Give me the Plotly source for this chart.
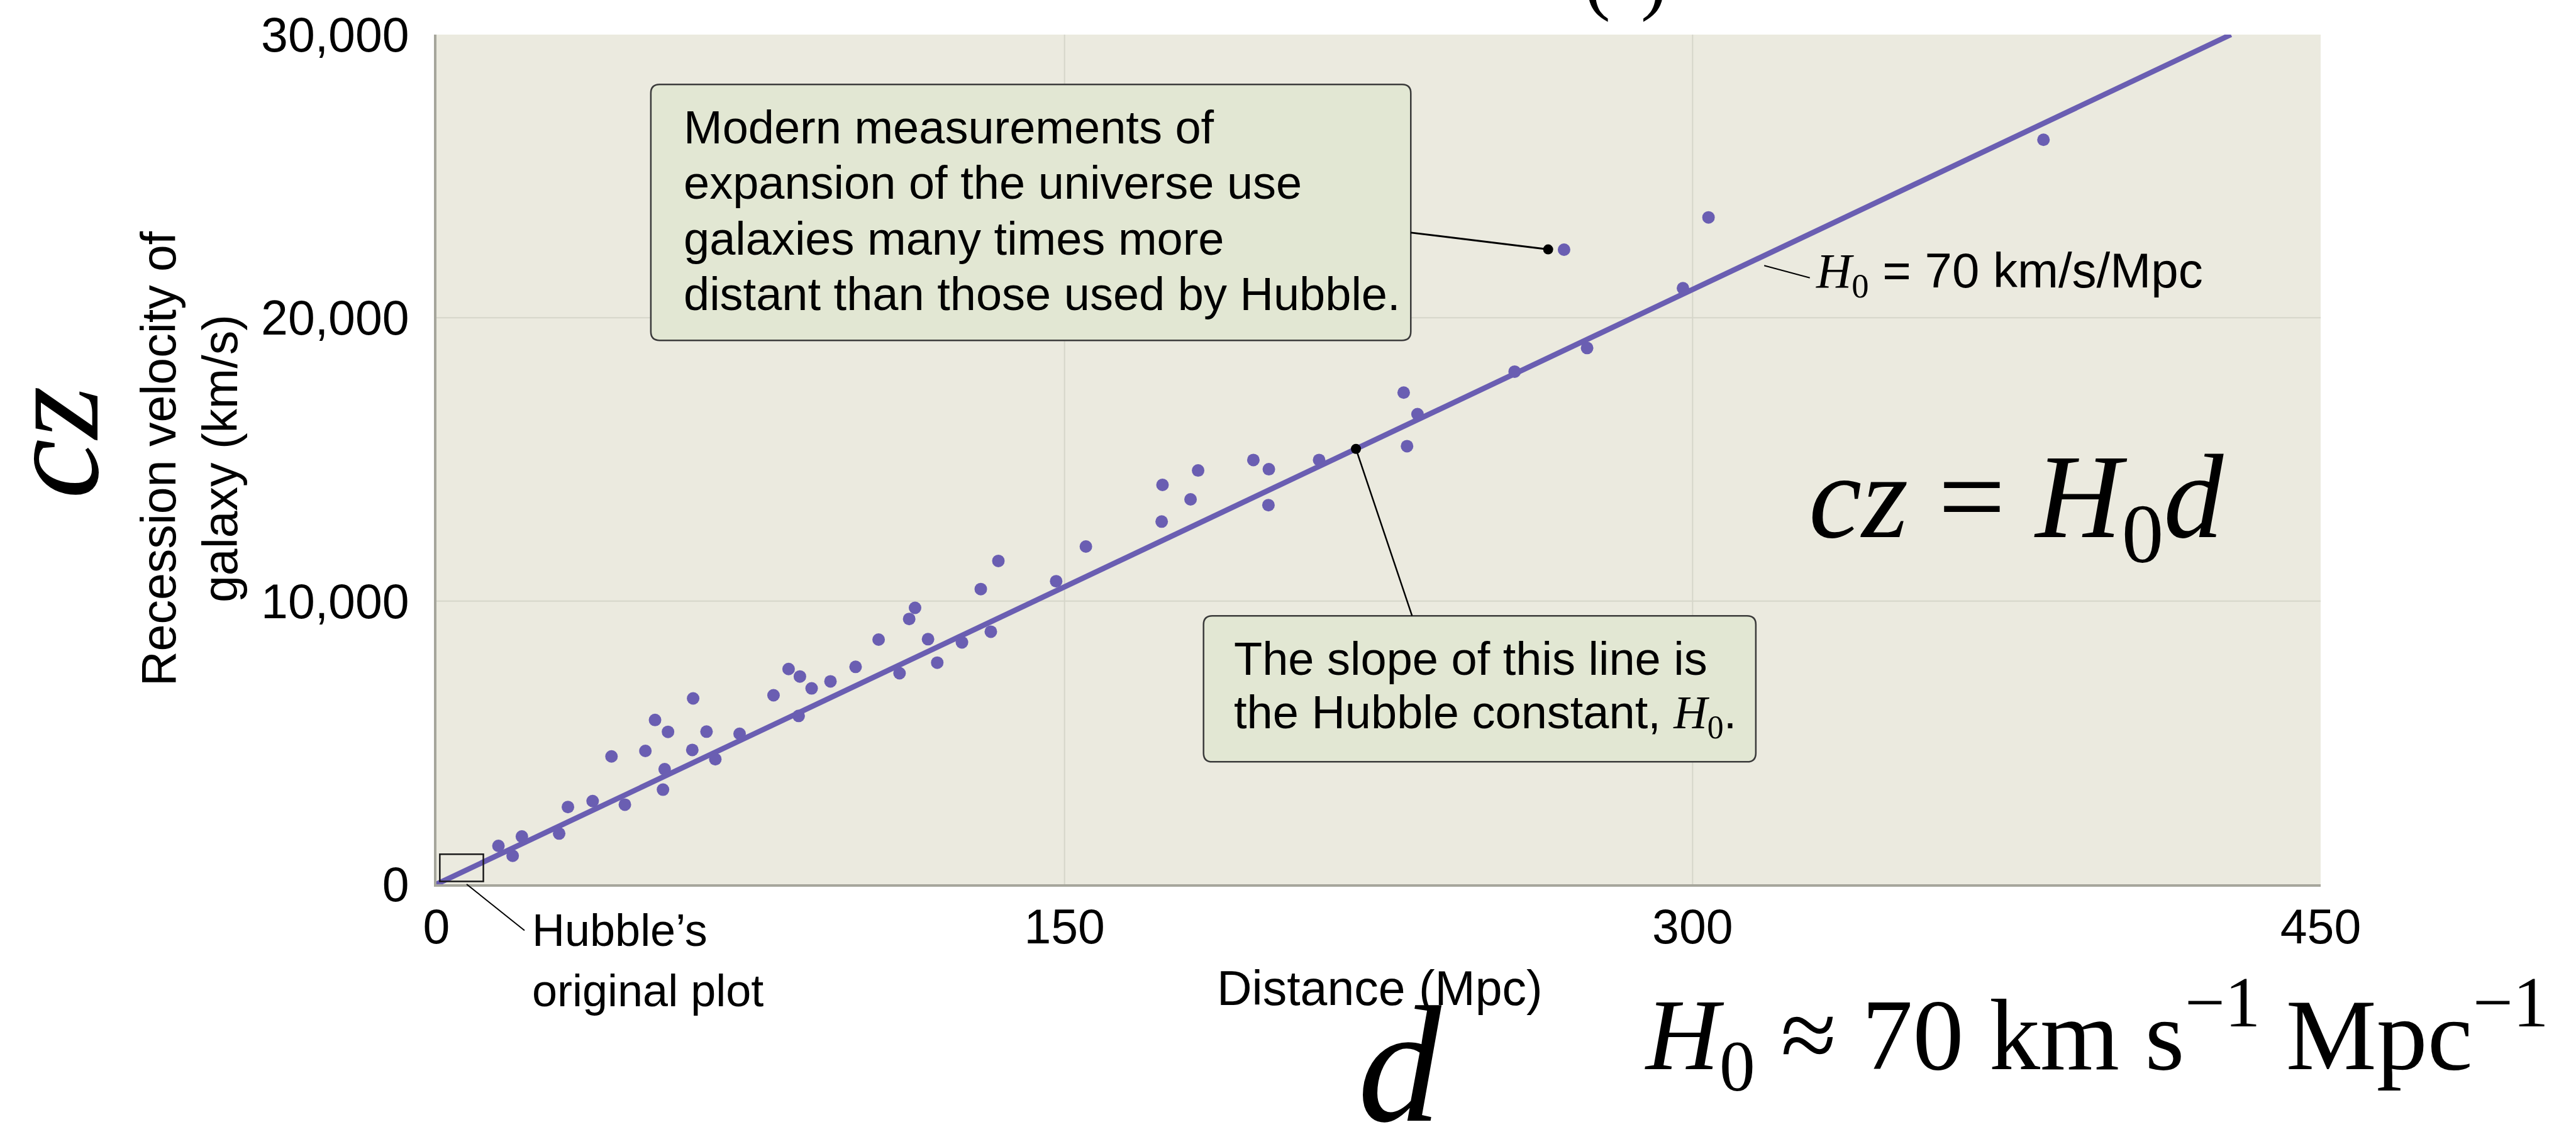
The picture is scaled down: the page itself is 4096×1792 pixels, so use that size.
import plotly.graph_objects as go

# Galaxy sample: distance (Mpc) and recession velocity cz (km/s)
distance_mpc = [14.8, 18.2, 20.4, 29.3, 31.4, 37.3, 41.8, 45.0, 49.9, 52.2,
                54.1, 54.5, 55.3, 61.1, 61.3, 64.5, 66.6, 72.4, 80.5, 84.1,
                86.5, 86.8, 89.6, 94.1, 100.1, 105.6, 110.6, 112.9, 114.3, 117.4,
                119.6, 125.5, 130.0, 132.4, 134.2, 148.0, 155.1, 173.2, 173.4, 180.1,
                181.9, 195.1, 198.7, 198.8, 210.8, 231.0, 231.8, 234.3, 257.5, 269.3,
                274.8, 297.7, 303.8, 383.8]
velocity_kms = [1354, 1005, 1686, 1791, 2728, 2937, 4514, 2811, 4708, 5799,
                3340, 4062, 5381, 4743, 6563, 5389, 4416, 5313, 6674, 7599,
                5944, 7336, 6915, 7164, 7676, 8638, 7449, 9367, 9759, 8652,
                7824, 8540, 10422, 8917, 11415, 10700, 11925, 12805, 14100, 13590,
                14609, 14980, 13387, 14654, 14980, 17359, 15469, 16600, 18099, 22406,
                18934, 21045, 23545, 26287]

# Hubble constant of the fitted line (km/s/Mpc)
H0 = 70

# Axis ranges and ticks
x_range = [0, 450]
y_range = [0, 30000]
x_ticks = [0, 150, 300, 450]
x_tick_labels = ["0", "150", "300", "450"]
y_ticks = [0, 10000, 20000, 30000]
y_tick_labels = ["0", "10,000", "20,000", "30,000"]

# Extent of Hubble's original 1929 diagram (Mpc, km/s)
hubble_box_x = [0.8, 11.2]
hubble_box_y = [100, 1060]

# Callout anchor points (Mpc)
modern_dot_x, modern_dot_y = 265.5, 22415
slope_dot_x = 219.6

W, H = 4096, 1792
PL, PR, PT, PB = 694, 3690, 47, 1406   # plot area in pixels

SANS = "Liberation Sans, Arial, sans-serif"
SERIF = "Liberation Serif, Times New Roman, serif"
PURPLE = "#6A5EB2"
BG = "#EBEADF"
GRID = "#D6D6CA"
AXIS = "#A6A69C"
BOX_FILL = "#E2E7D3"
BOX_LINE = "#3A3A3A"


def pxx(X):
    return (X - PL) / (PR - PL)


def pxy(Y):
    return (PB - Y) / (PB - PT)


def dx(px):
    return px / (PR - PL) * (x_range[1] - x_range[0])


def dy(px):
    return px / (PB - PT) * (y_range[1] - y_range[0])


def rounded_box(x0, y0, x1, y1, r_px=14):
    rx, ry = dx(r_px), dy(r_px)
    return (f"M {x0 + rx},{y0} L {x1 - rx},{y0} Q {x1},{y0} {x1},{y0 + ry} "
            f"L {x1},{y1 - ry} Q {x1},{y1} {x1 - rx},{y1} L {x0 + rx},{y1} "
            f"Q {x0},{y1} {x0},{y1 - ry} L {x0},{y0 + ry} Q {x0},{y0} {x0 + rx},{y0} Z")


H0_TXT = f"<span style='font-family:{SERIF}'><i>H</i><sub>0</sub></span>"

fig = go.Figure()

# fitted line cz = H0 d
fig.add_trace(go.Scatter(
    x=[0, y_range[1] / H0], y=[0, y_range[1]], mode="lines",
    line=dict(color=PURPLE, width=8.5), hoverinfo="skip"))

# galaxies
fig.add_trace(go.Scatter(
    x=distance_mpc, y=velocity_kms, mode="markers",
    marker=dict(color=PURPLE, size=20, line=dict(width=0)), hoverinfo="skip"))

shapes = []
# interior grid lines
for gx in x_ticks[1:-1]:
    shapes.append(dict(type="line", xref="x", yref="y", x0=gx, x1=gx, y0=y_range[0], y1=y_range[1],
                       line=dict(color=GRID, width=2), layer="below"))
for gy in y_ticks[1:-1]:
    shapes.append(dict(type="line", xref="x", yref="y", x0=x_range[0], x1=x_range[1], y0=gy, y1=gy,
                       line=dict(color=GRID, width=2), layer="below"))

# callout: modern measurements
box1 = (51.2, 19203, 232.7, 28241)
shapes.append(dict(type="path", xref="x", yref="y", path=rounded_box(*box1),
                   fillcolor=BOX_FILL, line=dict(color=BOX_LINE, width=2.5), layer="above"))
shapes.append(dict(type="line", xref="x", yref="y", x0=box1[2], y0=23008,
                   x1=modern_dot_x, y1=modern_dot_y, line=dict(color="black", width=3), layer="above"))

# callout: slope of the line
box2 = (183.2, 4323, 315.1, 9478)
shapes.append(dict(type="path", xref="x", yref="y", path=rounded_box(*box2),
                   fillcolor=BOX_FILL, line=dict(color=BOX_LINE, width=2.5), layer="above"))
shapes.append(dict(type="line", xref="x", yref="y", x0=slope_dot_x, y0=H0 * slope_dot_x,
                   x1=233.0, y1=box2[3], line=dict(color="black", width=2.5), layer="above"))

# label pointer for the line (just below the line, towards the label)
shapes.append(dict(type="line", xref="x", yref="y", x0=317.1, y0=H0 * 317.1 - 350,
                   x1=328.0, y1=H0 * 328.0 - 1550, line=dict(color="black", width=2), layer="above"))

# Hubble's original plot region
shapes.append(dict(type="rect", xref="x", yref="y", x0=hubble_box_x[0], x1=hubble_box_x[1],
                   y0=hubble_box_y[0], y1=hubble_box_y[1],
                   line=dict(color="#1A1A1A", width=2.5), layer="above"))
shapes.append(dict(type="line", xref="paper", yref="paper", x0=pxx(742), y0=pxy(1406),
                   x1=pxx(834), y1=pxy(1480), line=dict(color="black", width=2)))

# pointer dots
fig.add_trace(go.Scatter(
    x=[modern_dot_x, slope_dot_x], y=[modern_dot_y, H0 * slope_dot_x], mode="markers",
    marker=dict(color="black", size=16), hoverinfo="skip", cliponaxis=False))

ann = []


def text(t, x, y, size, family=SANS, xref="x", yref="y", xanchor="left", yanchor="middle",
         angle=0, align="left"):
    ann.append(dict(text=t, x=x, y=y, xref=xref, yref=yref, xanchor=xanchor, yanchor=yanchor,
                    showarrow=False, textangle=angle, align=align, borderpad=0,
                    font=dict(family=family, size=size, color="black")))


# callout texts
for line, yv in zip(["Modern measurements of", "expansion of the universe use",
                     "galaxies many times more", "distant than those used by Hubble."],
                    [26726, 24766, 22788, 20830]):
    text(line, 58.9, yv, 74)
for line, yv in zip(["The slope of this line is", f"the Hubble constant, {H0_TXT}."],
                    [7969, 5960]):
    text(line, 190.3, yv, 74)

text(f"{H0_TXT} = {H0} km/s/Mpc", 329.3, H0 * 329.3 - 1506, 78)

text("<i>cz</i> = <i>H</i><sub>0</sub><i>d</i>", 377.3, 13377, 190, family=SERIF, xanchor="center")

# outside texts
text("Hubble\u2019s", pxx(845), pxy(1479), 72, xref="paper", yref="paper")
text("original plot", pxx(845), pxy(1576), 72, xref="paper", yref="paper")
text("Distance (Mpc)", pxx(2194), pxy(1572), 77, xref="paper", yref="paper", xanchor="center")
text("Recession velocity of", pxx(252), pxy(725), 77, xref="paper", yref="paper",
     xanchor="center", angle=-90)
text("galaxy (km/s)", pxx(350), pxy(725), 77, xref="paper", yref="paper",
     xanchor="center", angle=-90)
text("<i>cz</i>", pxx(82), pxy(700), 215, family=SERIF, xref="paper", yref="paper",
     xanchor="center", angle=-90)
text("<i>d</i>", pxx(2227), pxy(1785 + 0.216 * 265), 265, family=SERIF, xref="paper", yref="paper",
     xanchor="center", yanchor="bottom")
text(f"<i>H</i><sub>0</sub> \u2248 {H0} km s<sup>\u22121</sup> Mpc<sup>\u22121</sup>",
     pxx(2614), pxy(1646), 162, family=SERIF, xref="paper", yref="paper")
text("(", pxx(2540), pxy(28), 125, family=SERIF, xref="paper", yref="paper",
     xanchor="center", yanchor="bottom")
text(")", pxx(2630), pxy(28), 125, family=SERIF, xref="paper", yref="paper",
     xanchor="center", yanchor="bottom")

fig.update_layout(
    width=W, height=H,
    margin=dict(l=PL, r=W - PR, t=PT, b=H - PB, pad=0),
    paper_bgcolor="white", plot_bgcolor=BG,
    showlegend=False,
    font=dict(family=SANS, size=77, color="black"),
    shapes=shapes, annotations=ann,
    xaxis=dict(range=x_range, tickvals=x_ticks, ticktext=x_tick_labels, showgrid=False,
               zeroline=False, showline=True, linecolor=AXIS, linewidth=4, ticks="",
               ticklabelstandoff=-2, tickfont=dict(family=SANS, size=77, color="black")),
    yaxis=dict(range=y_range, tickvals=y_ticks, ticktext=y_tick_labels, showgrid=False,
               zeroline=False, showline=True, linecolor=AXIS, linewidth=4, ticks="",
               ticklabelstandoff=24, tickfont=dict(family=SANS, size=77, color="black")),
)

fig.write_html("out.html", config={"displayModeBar": False})
